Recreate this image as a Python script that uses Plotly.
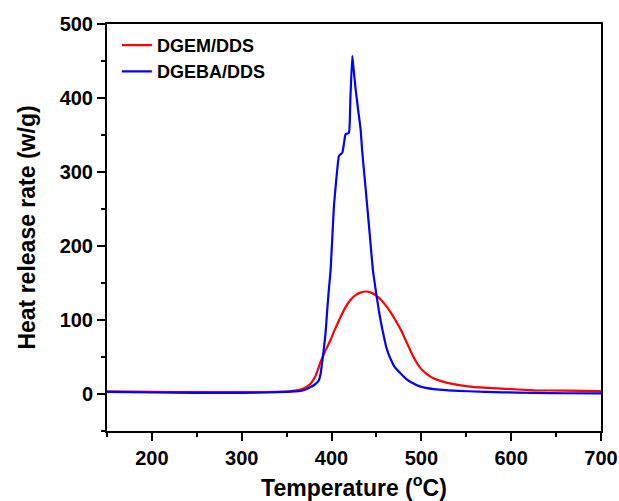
import plotly.graph_objects as go

# DGEBA/DDS (blue)
temp_dgeba = [150, 200, 250, 300, 330, 350, 360, 365.5, 371, 376, 380.3, 383, 385.9, 387.8, 389.6,
              391.5, 393.3, 395, 397, 399, 402.6, 405.6, 408.2, 410, 412, 414, 415.6, 419.3,
              421, 423.1, 424.5, 426.8, 429.5, 432.4, 434, 437, 440, 443, 446, 449.7, 452.5,
              455.2, 458, 460.8, 463.5, 466.4, 470, 477.5, 483, 488.6, 499, 514, 530, 552,
              590, 626, 660, 700]
hrr_dgeba = [3, 2, 1.5, 1.5, 2, 3, 3.5, 4, 6, 9, 11.8, 14.5, 18.6, 27, 43,
             62, 82, 110, 141, 168, 253, 294, 321.6, 324, 326, 340, 351, 353,
             400, 457, 440, 412, 385, 357, 330, 290, 250, 209, 168, 136, 114,
             95.5, 79, 64, 54, 45.7, 37, 27, 20.5, 15.8, 10, 6.6, 5, 3.7,
             2.3, 1.4, 1, 0.8]

# DGEM/DDS (red)
temp_dgem = [150, 200, 250, 300, 340, 355, 365.5, 370, 376.6, 382, 387.7, 393, 398.9, 404,
             410, 415, 421, 427, 432.3, 437.9, 444, 450.9, 456, 462, 466, 471, 477, 482,
             488, 493, 499, 506, 514, 523, 533, 551.6, 570, 589, 626, 660, 700]
hrr_dgem = [3.5, 3, 2.5, 2.5, 3, 4, 6, 8, 14, 24, 43, 58, 73, 88,
            104, 116, 127, 134, 137, 138.5, 137, 132, 126, 117, 110, 100, 87, 74,
            58, 46, 35, 27, 21, 17, 14, 10.4, 8.5, 7.3, 5, 4.5, 4]

x_ticks = [200, 300, 400, 500, 600, 700]
y_ticks = [0, 100, 200, 300, 400, 500]

FONT = "Arial, Liberation Sans, sans-serif"

fig = go.Figure()
fig.add_trace(go.Scatter(x=temp_dgem, y=hrr_dgem, mode="lines", name="DGEM/DDS",
                         line=dict(color="#ff0000", width=2.2, shape="spline", smoothing=0.4)))
fig.add_trace(go.Scatter(x=temp_dgeba, y=hrr_dgeba, mode="lines", name="DGEBA/DDS",
                         line=dict(color="#0000ff", width=2.2, shape="spline", smoothing=0.4)))

axis_common = dict(showline=True, linecolor="black", linewidth=2, mirror=True,
                   ticks="outside", ticklen=8, tickwidth=2, tickcolor="black",
                   showgrid=False, zeroline=False, automargin=False,
                   ticklabeloverflow="allow",
                   tickfont=dict(family=FONT, size=20, color="black", weight="bold"))

fig.update_xaxes(range=[150, 700], tickvals=x_ticks,
                 minor=dict(dtick=50, tick0=150, ticks="outside", ticklen=4, tickwidth=2, tickcolor="black"),
                 title=dict(text="Temperature (<sup>o</sup>C)", standoff=16,
                            font=dict(family=FONT, size=23, color="black", weight="bold")),
                 **axis_common)
fig.update_yaxes(range=[-50, 500], tickvals=y_ticks,
                 minor=dict(dtick=50, tick0=-50, ticks="outside", ticklen=4, tickwidth=2, tickcolor="black"),
                 title=dict(text="Heat release rate (w/g)", standoff=18,
                            font=dict(family=FONT, size=23, color="black", weight="bold")),
                 **axis_common)

fig.update_layout(
    width=619, height=501,
    margin=dict(l=107, r=18, t=24, b=70),
    plot_bgcolor="white", paper_bgcolor="white",
    showlegend=True,
    legend=dict(x=0.02, y=0.993, xanchor="left", yanchor="top",
                bgcolor="rgba(0,0,0,0)", tracegroupgap=0,
                font=dict(family=FONT, size=18, color="black", weight="bold")),
)

# remove the default page margin so the figure fills the 619x501 window exactly
fig.write_html("out.html",
               config={"displayModeBar": False},
               post_script="document.body.style.margin='0';document.body.style.overflow='hidden';")
